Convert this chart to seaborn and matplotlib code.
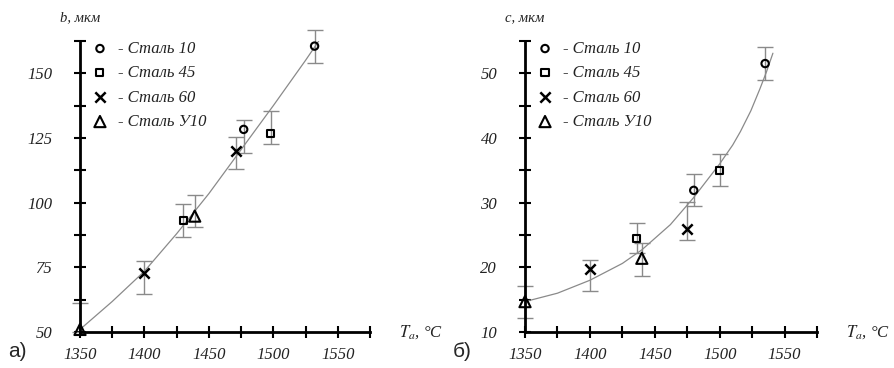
import numpy as np
import pandas as pd
import matplotlib
matplotlib.use('Agg')
import matplotlib.pyplot as plt
import seaborn as sns
from matplotlib.ticker import MultipleLocator

#%%
# data
steels = ['Сталь 10', 'Сталь 45', 'Сталь 60', 'Сталь У10']
steel_markers = ['o', 's', 'x', '^']
steel_sizes = [28, 26, 55, 65]

# panel а) : b, мкм
b_steel = ['Сталь 10', 'Сталь 10', 'Сталь 45', 'Сталь 45',
           'Сталь 60', 'Сталь 60', 'Сталь У10', 'Сталь У10']
b_temp = [1477, 1532, 1430, 1498, 1400, 1471, 1350, 1439]
b_val = [128.3, 160.5, 93.0, 126.7, 72.9, 120.0, 51.0, 94.8]
b_low = [119.2, 154.0, 86.8, 122.8, 64.7, 113.0, 50.0, 90.7]
b_high = [131.9, 166.6, 99.4, 135.4, 77.3, 125.4, 61.3, 103.0]
b_curve_t = [1350, 1375, 1400, 1425, 1450, 1475, 1500, 1525, 1538]
b_curve_v = [51.0, 61.8, 73.5, 88.0, 103.5, 120.5, 137.5, 155.0, 164.5]

# panel б) : c, мкм
c_steel = b_steel
c_temp = [1480, 1535, 1436, 1500, 1400, 1475, 1350, 1440]
c_val = [31.9, 51.5, 24.4, 35.0, 19.8, 26.0, 14.7, 21.4]
c_low = [29.5, 49.0, 22.2, 32.5, 16.3, 24.3, 12.2, 18.7]
c_high = [34.5, 54.0, 26.9, 37.5, 21.2, 30.1, 17.1, 23.8]
c_curve_t = [1350, 1375, 1400, 1425, 1440, 1462, 1480, 1500, 1510,
             1516, 1524, 1531, 1536, 1541]
c_curve_v = [14.7, 16.0, 18.0, 20.6, 22.7, 26.6, 30.8, 36.0, 38.9,
             41.0, 44.2, 47.6, 50.2, 53.1]

#%%
# style
sns.set_style('ticks')
plt.rcParams['font.family'] = ['Liberation Serif', 'DejaVu Serif']
plt.rcParams['mathtext.fontset'] = 'stix'

grey = '#8a8a8a'


def panel(ax, steel, temp, val, low, high, curve_t, curve_v,
          ylim, ystep, ylabel):
    df = pd.DataFrame({'steel': steel, 'T': temp, 'v': val,
                       'lo': low, 'hi': high})

    sns.lineplot(x=curve_t, y=curve_v, ax=ax, color=grey, lw=0.9,
                 sort=True, zorder=1)

    eb = ax.errorbar(df['T'], df['v'], yerr=[df['v'] - df['lo'], df['hi'] - df['v']],
                     fmt='none', ecolor=grey, elinewidth=1.0, capsize=6,
                     capthick=1.0, zorder=2)
    for art in eb.lines[1] + eb.lines[2]:
        art.set_clip_on(False)

    for name, mk, sz in zip(steels, steel_markers, steel_sizes):
        sub = df[df['steel'] == name]
        if mk == 'x':
            sns.scatterplot(data=sub, x='T', y='v', ax=ax, marker=mk, s=sz,
                            color='black', linewidth=1.8, clip_on=False,
                            zorder=4, label='- ' + name)
        else:
            sns.scatterplot(data=sub, x='T', y='v', ax=ax, marker=mk, s=sz,
                            facecolor='none', edgecolor='black',
                            linewidth=1.5, clip_on=False, zorder=4,
                            label='- ' + name)

    ax.set_xlim(1350, 1575)
    ax.set_ylim(*ylim)
    ax.xaxis.set_major_locator(MultipleLocator(50))
    ax.xaxis.set_minor_locator(MultipleLocator(25))
    ax.yaxis.set_major_locator(MultipleLocator(ystep))
    ax.yaxis.set_minor_locator(MultipleLocator(ystep / 2))
    ax.set_xlabel('')
    ax.set_ylabel('')

    for s in ['top', 'right']:
        ax.spines[s].set_visible(False)
    for s in ['left', 'bottom']:
        ax.spines[s].set_linewidth(2.0)
        ax.spines[s].set_color('black')

    ax.tick_params(which='both', direction='inout', length=8, width=1.5,
                   color='black', bottom=True, left=True)
    ax.tick_params(axis='x', which='major', pad=7, labelsize=12)
    ax.tick_params(axis='y', which='major', pad=16, labelsize=12)
    for lab in ax.get_xticklabels() + ax.get_yticklabels():
        lab.set_fontstyle('italic')
        lab.set_color('#222222')

    ax.text(0.0, 1.08, ylabel, transform=ax.transAxes, ha='center',
            va='center', style='italic', fontsize=10.5, color='#222222')
    ax.text(1.1, 0.0, r'$T_a$, °C', transform=ax.transAxes, ha='left',
            va='center', style='italic', fontsize=12, color='#222222')

    leg = ax.legend(loc='upper left', bbox_to_anchor=(0.04, 1.0),
                    frameon=False, fontsize=12, handlelength=1.0,
                    handletextpad=0.6, labelspacing=0.5, borderpad=0,
                    borderaxespad=0)
    for t in leg.get_texts():
        t.set_fontstyle('italic')
        t.set_color('#222222')


#%%
# plot
fig = plt.figure(figsize=(8.95, 3.68), dpi=100)
ax1 = fig.add_axes([0.0894, 0.0978, 0.324, 0.791])
ax2 = fig.add_axes([0.5866, 0.0978, 0.3263, 0.791])

panel(ax1, b_steel, b_temp, b_val, b_low, b_high, b_curve_t, b_curve_v,
      (50, 162.5), 25, 'b, мкм')
panel(ax2, c_steel, c_temp, c_val, c_low, c_high, c_curve_t, c_curve_v,
      (10, 55), 10, 'c, мкм')

fig.text(0.009, 0.045, 'а)', fontsize=15, family='Liberation Sans', va='center')
fig.text(0.506, 0.045, 'б)', fontsize=15, family='Liberation Sans', va='center')

plt.savefig('out.png', dpi=100)
